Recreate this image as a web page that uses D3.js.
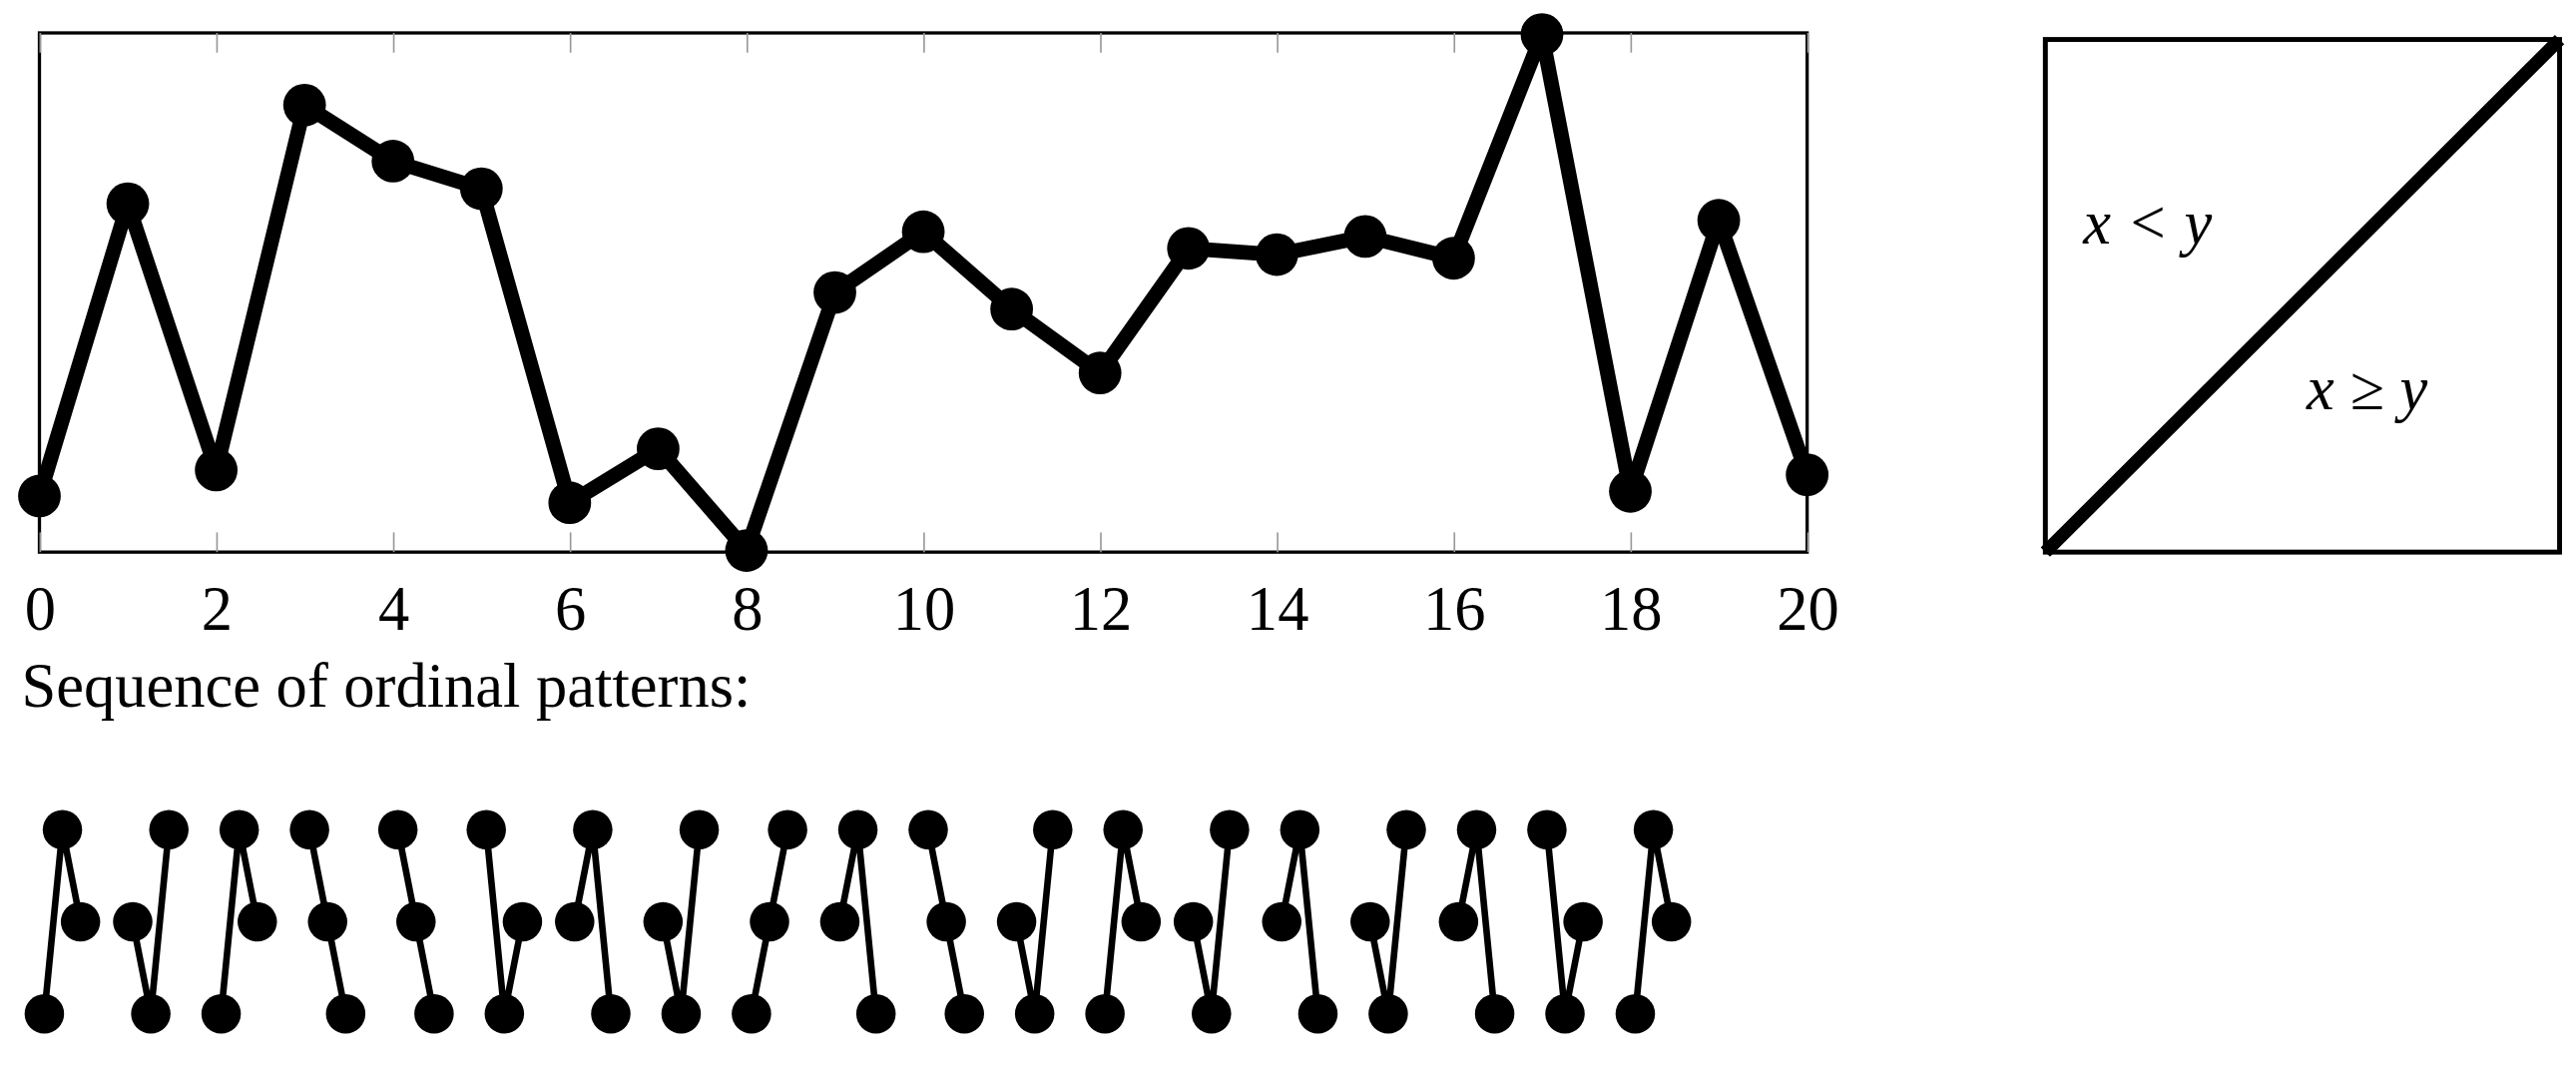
<!DOCTYPE html>
<html><head><meta charset="utf-8">
<script src="https://cdn.jsdelivr.net/npm/d3@7"></script>
<style>body{margin:0;background:#fff}</style></head>
<body><svg id="c" width="2581" height="1075" viewBox="0 0 1568 653"></svg>
<script>
const times = d3.range(0, 21);
const values = [1.08,6.71,1.58,8.61,7.53,7.0,0.95,1.99,0.03,5.0,6.17,4.68,3.45,5.85,5.73,6.08,5.66,9.97,1.17,6.39,1.49];
const tickLabels = [0,2,4,6,8,10,12,14,16,18,20];
const caption = "Sequence of ordinal patterns:";
const regionLabels = ["x < y", "x ≥ y"];

const svg = d3.select("#c");
const font = "'Liberation Serif', 'DejaVu Serif', serif";
const x = d3.scaleLinear().domain([0,20]).range([24,1100]);
const y = d3.scaleLinear().domain([0,10]).range([336,20]);

// frame
svg.append("rect").attr("x",24).attr("y",20).attr("width",1076).attr("height",316)
  .attr("fill","none").attr("stroke","#000").attr("stroke-width",2);
// ticks
const axB = d3.axisBottom(x).tickValues(tickLabels).tickSize(12).tickFormat(d=>d).tickPadding(14);
const gB = svg.append("g").attr("transform","translate(0,336)").call(axB);
gB.select(".domain").remove();
gB.selectAll(".tick line").attr("y2",-12).attr("stroke","#999").attr("stroke-width",1);
gB.selectAll(".tick text").attr("font-family",font).attr("font-size",38).attr("fill","#000").attr("dy","0.72em").attr("y",20);
const gT = svg.append("g").attr("transform","translate(0,20)").call(d3.axisTop(x).tickValues(tickLabels).tickFormat(""));
gT.select(".domain").remove();
gT.selectAll(".tick line").attr("y2",12).attr("stroke","#999").attr("stroke-width",1);

// series
const pts = times.map((t,i)=>({t, v: values[i]}));
svg.append("path").datum(pts).attr("fill","none").attr("stroke","#000").attr("stroke-width",9)
  .attr("stroke-linejoin","round")
  .attr("d", d3.line().x(d=>x(d.t)).y(d=>y(d.v)));
svg.selectAll("circle.p").data(pts).join("circle").attr("class","p")
  .attr("cx",d=>x(d.t)).attr("cy",d=>y(d.v)).attr("r",13).attr("fill","#000");

// right box
const bx = d3.scaleLinear().domain([0,1]).range([1245,1558]);
const by = d3.scaleLinear().domain([0,1]).range([336,24]);
svg.append("rect").attr("x",bx(0)).attr("y",by(1)).attr("width",bx(1)-bx(0)).attr("height",by(0)-by(1))
  .attr("fill","none").attr("stroke","#000").attr("stroke-width",3);
svg.append("line").attr("x1",bx(0)).attr("y1",by(0)).attr("x2",bx(1)).attr("y2",by(1))
  .attr("stroke","#000").attr("stroke-width",8);
svg.append("text").attr("x",1268).attr("y",148).text(regionLabels[0])
  .attr("font-family",font).attr("font-style","italic").attr("font-size",38);
svg.append("text").attr("x",1404).attr("y",249).text(regionLabels[1])
  .attr("font-family",font).attr("font-style","italic").attr("font-size",38);

// caption
svg.append("text").attr("x",13).attr("y",430).text(caption).attr("font-family",font).attr("font-size",38);

// ordinal patterns
const levelY = d3.scalePoint().domain([0,1,2]).range([617,505]);
const step = x(1)-x(0);
const patterns = d3.range(0,19).map(i=>{
  const w = values.slice(i,i+3);
  const sorted = w.slice().sort((a,b)=>a-b);
  return w.map((v,j)=>({px: 27 + step*i + 11*j, rank: sorted.indexOf(v)}));
});
const pg = svg.append("g");
patterns.forEach(p=>{
  pg.append("path").datum(p).attr("fill","none").attr("stroke","#000").attr("stroke-width",4)
    .attr("d", d3.line().x(d=>d.px).y(d=>levelY(d.rank)));
  pg.selectAll(null).data(p).join("circle").attr("cx",d=>d.px).attr("cy",d=>levelY(d.rank))
    .attr("r",12).attr("fill","#000");
});
</script></body></html>
